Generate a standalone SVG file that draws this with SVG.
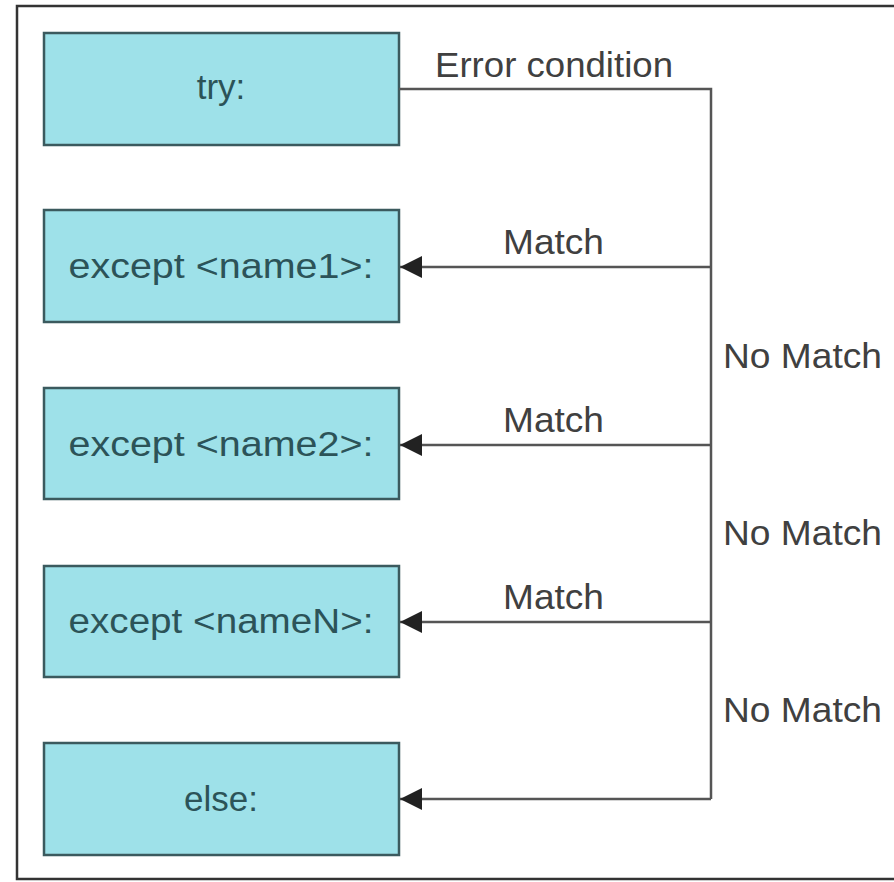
<svg xmlns="http://www.w3.org/2000/svg" width="894" height="882" viewBox="0 0 894 882">
<style>
.box{fill:#9ee1e9;stroke:#3b5a5e;stroke-width:2.5}
.bt{font-family:"Liberation Sans",Arial,sans-serif;font-size:35px;fill:#2c5358;text-anchor:middle}
.lbl{font-family:"Liberation Sans",Arial,sans-serif;font-size:35px;fill:#404040}
.ln{fill:none;stroke:#555;stroke-width:2.5}
</style>
<defs>
<marker id="ah" markerUnits="userSpaceOnUse" markerWidth="24" markerHeight="24" refX="22" refY="11" orient="auto">
<path d="M0,0 L22,11 L0,22 Z" fill="#222"/>
</marker>
</defs>
<rect width="894" height="882" fill="#fff"/>
<path d="M896,6 H17 V879 H896" fill="none" stroke="#333" stroke-width="2.5"/>
<g id="node-try"><rect class="box" x="44" y="33" width="355" height="112"/><text class="bt" x="221" y="99">try:</text></g>
<g id="node-except1"><rect class="box" x="44" y="210" width="355" height="112"/><text class="bt" x="221" y="278" textLength="305" lengthAdjust="spacingAndGlyphs">except &lt;name1&gt;:</text></g>
<g id="node-except2"><rect class="box" x="44" y="388" width="355" height="111"/><text class="bt" x="221" y="456" textLength="305" lengthAdjust="spacingAndGlyphs">except &lt;name2&gt;:</text></g>
<g id="node-exceptN"><rect class="box" x="44" y="566" width="355" height="111"/><text class="bt" x="221" y="633" textLength="305" lengthAdjust="spacingAndGlyphs">except &lt;nameN&gt;:</text></g>
<g id="node-else"><rect class="box" x="44" y="743" width="355" height="112"/><text class="bt" x="221" y="811">else:</text></g>
<g id="connectors">
<path class="ln" d="M399,89 H711 V799"/>
<path class="ln" d="M711,267 H400" marker-end="url(#ah)"/>
<path class="ln" d="M711,445 H400" marker-end="url(#ah)"/>
<path class="ln" d="M711,622 H400" marker-end="url(#ah)"/>
<path class="ln" d="M711,799 H400" marker-end="url(#ah)"/>
</g>
<g id="labels">
<text class="lbl" x="435" y="77" textLength="238" lengthAdjust="spacingAndGlyphs">Error condition</text>
<text class="lbl" x="503" y="254" textLength="101" lengthAdjust="spacingAndGlyphs">Match</text>
<text class="lbl" x="503" y="432" textLength="101" lengthAdjust="spacingAndGlyphs">Match</text>
<text class="lbl" x="503" y="609" textLength="101" lengthAdjust="spacingAndGlyphs">Match</text>
<text class="lbl" x="723" y="368" textLength="159" lengthAdjust="spacingAndGlyphs">No Match</text>
<text class="lbl" x="723" y="545" textLength="159" lengthAdjust="spacingAndGlyphs">No Match</text>
<text class="lbl" x="723" y="722" textLength="159" lengthAdjust="spacingAndGlyphs">No Match</text>
</g>
</svg>
